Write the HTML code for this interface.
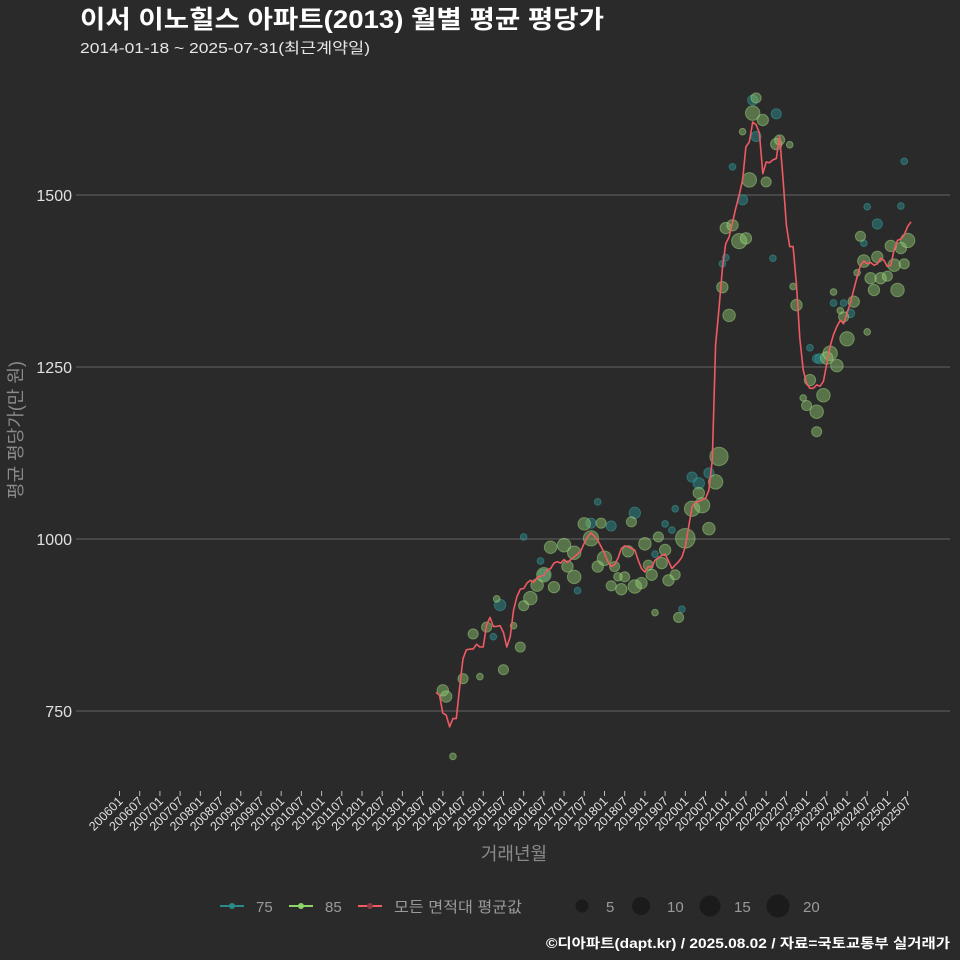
<!DOCTYPE html>
<html><head><meta charset="utf-8">
<style>
body{margin:0;background:#2b2a2b;}
svg{display:block;font-family:"Liberation Sans","Noto Sans CJK KR",sans-serif;}
</style></head>
<body>
<svg id="chart" width="960" height="960" viewBox="0 0 960 960">
<rect width="960" height="960" fill="#2b2a2b"/>
<text x="80" y="28" fill="#ffffff" font-size="25" font-weight="bold" textLength="524" lengthAdjust="spacingAndGlyphs">이서 이노힐스 아파트(2013) 월별 평균 평당가</text>
<text x="80" y="53" fill="#e6e6e6" font-size="15" textLength="290" lengthAdjust="spacingAndGlyphs">2014-01-18 ~ 2025-07-31(최근계약일)</text>
<g id="grid"></g>
<g id="yticks"></g>
<g id="xticks"></g>
<g id="bubbles"></g>
<path id="avgline" fill="none" stroke="#ef5a63" stroke-width="1.6" stroke-linejoin="round"/>
<text transform="translate(22,430) rotate(-90)" text-anchor="middle" fill="#8a8a8a" font-size="18">평균 평당가(만 원)</text>
<text x="514" y="860" text-anchor="middle" fill="#8a8a8a" font-size="18">거래년월</text>
<g>
  <g>
    <line x1="220" y1="906" x2="244" y2="906" stroke="#2a8a8a" stroke-width="2"/>
    <circle cx="232" cy="906" r="3" fill="#2a8a8a"/>
    <text x="256" y="912" fill="#9a9a9a" font-size="15">75</text>
  </g>
  <g>
    <line x1="289" y1="906" x2="313" y2="906" stroke="#8fd46a" stroke-width="2"/>
    <circle cx="301" cy="906" r="3" fill="#8fd46a"/>
    <text x="325" y="912" fill="#9a9a9a" font-size="15">85</text>
  </g>
  <g>
    <line x1="358" y1="906" x2="382" y2="906" stroke="#ef5a63" stroke-width="2"/>
    <circle cx="370" cy="906" r="3" fill="#8a3a40"/>
    <text x="394" y="912" fill="#9a9a9a" font-size="15" textLength="128" lengthAdjust="spacingAndGlyphs">모든 면적대 평균값</text>
  </g>
  <g>
    <circle cx="582" cy="906" r="6.5" fill="#1c1b1c"/><text x="606" y="912" fill="#9a9a9a" font-size="15">5</text>
    <circle cx="641" cy="906" r="9" fill="#1c1b1c"/><text x="667" y="912" fill="#9a9a9a" font-size="15">10</text>
    <circle cx="710" cy="906" r="10.5" fill="#1c1b1c"/><text x="734" y="912" fill="#9a9a9a" font-size="15">15</text>
    <circle cx="778" cy="906" r="11.5" fill="#1c1b1c"/><text x="803" y="912" fill="#9a9a9a" font-size="15">20</text>
  </g>
</g>
<text x="546" y="948" fill="#ffffff" font-size="13.5" font-weight="bold" textLength="404" lengthAdjust="spacingAndGlyphs">©디아파트(dapt.kr) / 2025.08.02 / 자료=국토교통부 실거래가</text>
</svg>
<script>
const yTicks = [750, 1000, 1250, 1500];
const lineStart = "201311";
const lineValues = [777,773,747,744,727,739,739,785,826,839,840,840,847,843,843,875,886,873,873,874,864,843,858,897,916,927,928,936,940,937,944,946,947,955,957,965,967,965,970,966,970,974,978,983,994,1003,1009,1004,998,989,979,967,960,963,972,986,990,989,986,984,969,957,952,960,959,969,973,976,978,968,957,962,967,974,989,1018,1047,1053,1055,1057,1059,1071,1115,1282,1335,1393,1429,1439,1460,1481,1500,1522,1570,1577,1606,1602,1590,1531,1548,1547,1551,1553,1585,1524,1456,1425,1425,1369,1292,1246,1226,1219,1219,1224,1222,1229,1255,1280,1297,1309,1318,1313,1328,1343,1362,1381,1398,1404,1400,1402,1398,1400,1408,1405,1396,1398,1420,1434,1436,1442,1454,1461];
const g85Months = ["201401","201402","201404","201407","201410","201412","201502","201505","201507","201510","201512","201601","201603","201605","201607","201609","201610","201701","201702","201704","201704","201707","201709","201711","201712","201801","201804","201803","201806","201807","201805","201808","201809","201810","201812","201901","201902","201903","201905","201907","201906","201908","201910","201904","201911","202001","202003","202006","202005","202008","202010","202011","202102","202012","202101","202103","202105","202107","202108","202106","202109","202112","202110","202201","202204","202205","202208","202209","202210","202302","202212","202301","202304","202304","202306","202308","202307","202310","202401","202312","202311","202309","202403","202407","202404","202406","202405","202410","202408","202409","202411","202501","202502","202503","202504","202505","202506","202507"];
const g85Values = [780,771,684,797,862,800,872,913,810,874,843,903,914,933,948,988,930,991,960,980,945,1022,1001,960,1023,972,960,932,927,945,945,982,1025,931,936,993,962,948,1003,984,965,940,948,893,886,1001,1044,1049,1067,1015,1083,1120,1325,1366,1452,1456,1433,1437,1522,1592,1619,1609,1641,1519,1574,1580,1573,1367,1340,1231,1205,1194,1185,1156,1209,1270,1263,1252,1291,1323,1332,1359,1345,1301,1387,1404,1440,1410,1379,1362,1379,1382,1426,1398,1362,1423,1400,1434];
const g85Counts = [4,4,1,3,3,1,3,1,3,1,3,3,6,5,7,5,4,6,4,6,6,5,8,4,3,7,3,3,4,3,2,4,3,6,4,5,3,4,3,4,4,4,3,1,3,14,8,8,4,5,7,12,5,4,4,4,8,4,7,1,7,4,3,3,4,3,1,1,4,4,1,3,6,3,6,7,5,5,7,3,1,1,4,1,1,5,3,4,4,4,4,3,4,5,6,4,3,7];
const g75Months = ["201506","201504","201606","201607","201705","201601","201711","201709","201803","201810","201904","201907","201909","201910","201912","202003","202005","202008","202012","202101","202106","202103","202109","202110","202204","202203","202302","202304","202305","202309","202312","202402","202406","202407","202410","202505","202506"];
const g75Values = [904,858,968,948,925,1003,1054,1023,1019,1038,978,1022,1013,1044,898,1090,1081,1096,1400,1409,1493,1541,1638,1585,1618,1408,1278,1262,1262,1343,1343,1328,1430,1483,1458,1484,1549];
const g75Counts = [4,1,1,4,1,1,1,3,3,4,1,1,1,1,1,3,4,3,1,1,3,1,3,3,3,1,1,2,3,1,1,2,1,1,3,1,1];
const xLabels = [];
for (let y = 2006; y <= 2025; y++) { xLabels.push(y + "01"); xLabels.push(y + "07"); }

const NS = "http://www.w3.org/2000/svg";
function monthIndex(ym){ return (parseInt(ym.slice(0,4))-2006)*12 + parseInt(ym.slice(4,6))-1; }
function xScale(m){ return 119.5 + m*3.368; }
function yScale(v){ return 539 - (v-1000)*0.688; }
function mk(tag, attrs, parent){ const e=document.createElementNS(NS,tag); for(const k in attrs) e.setAttribute(k,attrs[k]); parent.appendChild(e); return e; }

const grid=document.getElementById('grid'), yt=document.getElementById('yticks'), xt=document.getElementById('xticks');
yTicks.forEach(v=>{
  const l=mk('line',{x1:76,x2:950,y1:yScale(v),y2:yScale(v),stroke:'#5a595a','stroke-width':1.2},grid);
  
  
  const t=mk('text',{x:72,y:yScale(v)+6,'text-anchor':'end',fill:'#e0e0e0','font-size':16},yt);
  t.textContent=v;
  
  
});
xLabels.forEach(lab=>{
  const x=xScale(monthIndex(lab));
  const tk=mk('line',{x1:x,x2:x,y1:791,y2:796,stroke:'#bbbbbb','stroke-width':1},xt);
  
  
  const t=mk('text',{x:x+4,y:802,'text-anchor':'end',fill:'#e0e0e0','font-size':12.5,transform:`rotate(-45 ${x+4} 802)`},xt);
  t.textContent=lab;
  
  
});
const bub=document.getElementById('bubbles');
function rad(n){ return 1+2.35*Math.sqrt(n); }
g75Months.forEach((m,i)=>{
  const c=mk('circle',{cx:xScale(monthIndex(m)),cy:yScale(g75Values[i]),r:rad(g75Counts[i]),fill:'#2a8a8a','fill-opacity':0.5,stroke:'#3aa0a0','stroke-opacity':0.5},bub);
  
  
});
g85Months.forEach((m,i)=>{
  const c=mk('circle',{cx:xScale(monthIndex(m)),cy:yScale(g85Values[i]),r:rad(g85Counts[i]),fill:'#90cc70','fill-opacity':0.45,stroke:'#a8e088','stroke-opacity':0.45},bub);
  
  
});
const s0=monthIndex(lineStart);
document.getElementById('avgline').setAttribute('d', lineValues.map((v,i)=>(i?'L':'M')+xScale(s0+i).toFixed(1)+','+yScale(v).toFixed(1)).join(''));
</script>
</body></html>
